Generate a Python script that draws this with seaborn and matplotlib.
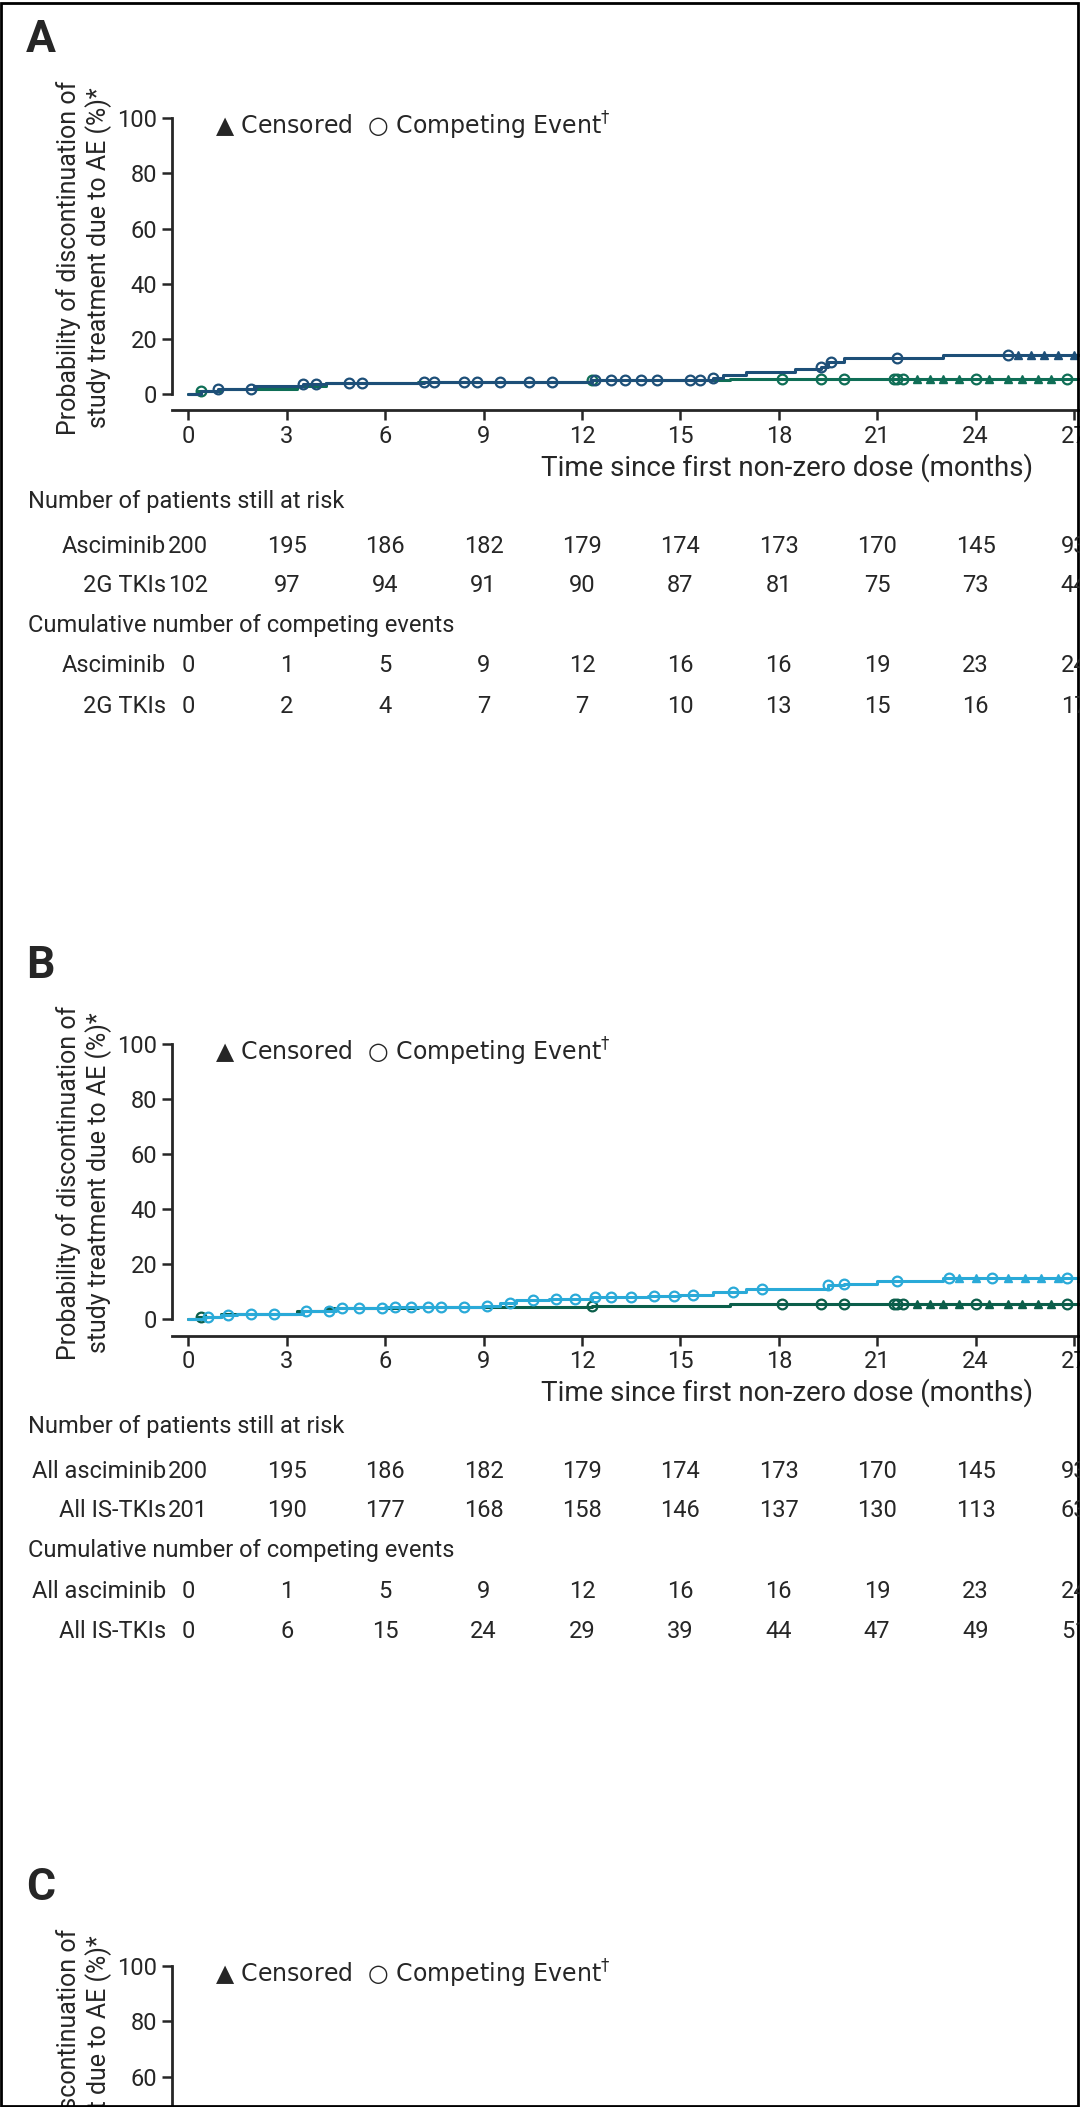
import numpy as np
import matplotlib
matplotlib.use("Agg")
import matplotlib.pyplot as plt
import seaborn as sns
from matplotlib.lines import Line2D

sns.set_style("ticks")
plt.rcParams['font.family'] = ['Roboto', 'DejaVu Sans']

# ---- curve data (time in months, cumulative %) ----
asc_t = [0, 0.3, 1.0, 3.3, 4.2, 7.0, 12.3, 16.5, 32.8, 35.6]
asc_y = [0, 1.0, 2.0, 3.0, 4.0, 4.5, 5.0, 5.5, 16.0, 16.0]
asc_circ = [0.4, 12.3, 18.1, 19.3, 20.0, 21.5, 21.6, 21.8, 24.0, 26.8]
asc_cens = [22.2, 22.6, 23.0, 23.5, 24.4, 25.0, 25.4, 25.9, 26.3, 27.3, 27.8, 28.3, 28.8,
            29.3, 29.8, 30.3, 30.8, 31.3, 31.8, 32.3, 32.7, 33.0, 33.5, 34.0, 34.5, 35.0, 35.5]

g2_t = [0, 0.4, 0.9, 2.0, 3.5, 4.2, 7.2, 12.3, 16.0, 16.3, 17.0, 18.5, 19.3, 19.5, 20.0, 23.0, 34.6]
g2_y = [0, 1.0, 2.0, 3.0, 3.5, 4.0, 4.5, 5.0, 6.0, 7.0, 8.0, 9.0, 10.0, 11.5, 13.0, 14.0, 14.0]
g2_circ = [0.9, 1.9, 3.5, 3.9, 4.9, 5.3, 7.2, 7.5, 8.4, 8.8, 9.5, 10.4, 11.1, 12.4, 12.9,
           13.3, 13.8, 14.3, 15.3, 15.6, 16.0, 19.3, 19.6, 21.6, 25.0, 28.2, 34.4]
g2_cens = [25.3, 25.7, 26.1, 26.5, 27.0, 27.5, 28.6, 29.0, 29.5, 30.0, 30.5, 31.0, 31.5,
           32.0, 32.5, 33.2, 33.8]

is_t = [0, 0.5, 1.0, 1.5, 3.5, 4.5, 6.0, 9.0, 9.5, 10.0, 11.0, 12.3, 14.0, 15.0, 16.0, 17.0,
        19.5, 20.0, 21.0, 23.0, 34.7]
is_y = [0, 1.0, 1.5, 2.0, 3.0, 4.0, 4.5, 5.0, 6.0, 7.0, 7.5, 8.0, 8.5, 9.0, 10.0, 11.0,
        12.5, 13.0, 14.0, 15.0, 15.0]
is_circ = [0.6, 1.2, 1.9, 2.6, 3.6, 4.3, 4.7, 5.2, 5.9, 6.3, 6.8, 7.3, 7.7, 8.4, 9.1, 9.8,
           10.5, 11.2, 11.8, 12.4, 12.9, 13.5, 14.2, 14.8, 15.4, 16.6, 17.5, 19.5, 20.0,
           21.6, 23.2, 24.5, 26.8, 28.5, 34.0]
is_cens = [23.5, 24.0, 25.0, 25.5, 26.0, 26.5, 27.2, 27.7, 28.1, 29.0, 29.5, 30.0, 30.5,
           31.0, 31.5, 32.0, 32.5, 33.2, 33.8, 34.4]

im_t = [0, 0.5, 1.0, 3.0, 3.7, 4.5, 5.8, 9.0, 9.5, 10.0, 12.0, 13.0, 14.5, 16.5, 22.0, 36.0]
im_y = [0, 1.0, 1.5, 2.5, 3.5, 4.0, 5.0, 6.0, 8.0, 10.0, 11.0, 12.0, 13.0, 14.5, 16.0, 16.0]
im_circ = [0.5, 1.0, 1.5, 2.5, 3.7, 4.2, 4.6, 5.0, 5.8, 6.3, 6.8, 7.3, 9.8, 12.0, 12.5,
           13.0, 14.5, 16.8, 17.2, 18.3, 20.0, 21.8, 23.0, 24.1, 27.0, 36.0]
im_cens = [22.3, 22.7, 23.3, 23.7, 24.5, 25.0, 25.5, 26.0, 26.5, 27.5, 28.0, 28.5, 29.0,
           29.5, 30.0, 30.5, 31.0, 31.5, 32.0, 33.5, 34.3, 35.0]

xticks = [0, 3, 6, 9, 12, 15, 18, 21, 24, 27, 30, 33, 36]

# ---- tables ----
risk_asc = [200, 195, 186, 182, 179, 174, 173, 170, 145, 93, 44, 6, 0]
risk_2g = [102, 97, 94, 91, 90, 87, 81, 75, 73, 44, 24, 6, 0]
risk_is = [201, 190, 177, 168, 158, 146, 137, 130, 113, 63, 28, 7, 0]
risk_im = [99, 93, 83, 77, 68, 59, 56, 55, 40, 19, 4, 1, 0]
comp_asc = [0, 1, 5, 9, 12, 16, 16, 19, 23, 24, 24, 24, 24]
comp_2g = [0, 2, 4, 7, 7, 10, 13, 15, 16, 17, 18, 18, 18]
comp_is = [0, 6, 15, 24, 29, 39, 44, 47, 49, 51, 52, 52, 52]
comp_im = [0, 4, 11, 17, 22, 29, 31, 32, 33, 34, 34, 34, 34]

GREEN = "#0f6e56"
NAVY = "#1d4f78"
CYAN = "#2aaad8"
STEEL = "#6f97b4"

panels = [
    ("A", ("Asciminib", asc_t, asc_y, asc_circ, asc_cens, GREEN),
          ("2G TKIs", g2_t, g2_y, g2_circ, g2_cens, NAVY),
     risk_asc, risk_2g, comp_asc, comp_2g),
    ("B", ("All asciminib", asc_t, asc_y, asc_circ, asc_cens, "#0b5e4a"),
          ("All IS-TKIs", is_t, is_y, is_circ, is_cens, CYAN),
     risk_asc, risk_is, comp_asc, comp_is),
    ("C", ("Asciminib", asc_t, asc_y, asc_circ, asc_cens, "#0b5e4a"),
          ("Imatinib", im_t, im_y, im_circ, im_cens, STEEL),
     risk_asc, risk_im, comp_asc, comp_im),
]

W, H = 1080, 2107
S = 1080 / 803  # reference measured at reduced scale
fig = plt.figure(figsize=(W / 100, H / 100), dpi=100)
fig.patches.append(plt.Rectangle((0.001, 0.0007), 0.997, 0.998, transform=fig.transFigure,
                                 fill=False, lw=2, color="black"))

def step_val(t, y, x):
    i = np.searchsorted(t, x, side="right") - 1
    return np.asarray(y)[np.clip(i, 0, len(y) - 1)]

x0_px, px_per = 140 * S, 24.39 * S
ypp = 2.05 * S

def xpx(t):
    return (x0_px + t * px_per) / W

FS = 17
offsets = [0, 688, 1374]
for (lab, s1, s2, r1, r2, c1, c2), off in zip(panels, offsets):
    top, bot = (78 + off) * S, (305 + off) * S
    left_px = x0_px - 0.5 * px_per
    right_px = x0_px + 37 * px_per
    ax = fig.add_axes([left_px / W, 1 - bot / H, (right_px - left_px) / W, (bot - top) / H])
    ylo = -12 * S / ypp
    ax.set_xlim(-0.5, 37)
    ax.set_ylim(ylo, ylo + (bot - top) / ypp)
    for name, t, y, circ, cens, col in (s1, s2):
        ax.step(t, y, where="post", color=col, lw=2.2)
        ax.plot(circ, step_val(t, y, circ), "o", mfc="none", mec=col, ms=7, mew=1.6)
        ax.plot(cens, step_val(t, y, cens), "^", color=col, ms=6)
    sns.despine(ax=ax)
    ax.spines["left"].set_bounds(0, 100)
    ax.spines["left"].set_linewidth(2)
    ax.spines["bottom"].set_linewidth(2)
    ax.set_yticks([0, 20, 40, 60, 80, 100])
    ax.set_xticks(xticks)
    ax.tick_params(labelsize=FS, width=1.8, length=7)
    ax.set_xlabel("Time since first non-zero dose (months)", fontsize=20)
    ax.set_ylabel("Probability of discontinuation of\nstudy treatment due to AE (%)*", fontsize=18)
    ax.text(0.035, 0.93, "▲ Censored  ○ Competing Event$^{†}$", transform=ax.transAxes,
            fontsize=FS, va="center", family=["DejaVu Sans"])
    handles = [Line2D([], [], color=s1[5], lw=2.8), Line2D([], [], color=s2[5], lw=2.8)]
    ax.legend(handles, [s1[0], s2[0]], loc="upper right", frameon=False, fontsize=FS,
              handlelength=1.8, bbox_to_anchor=(1.0, 1.03))
    fig.text(26 / W, 1 - (30 + off) * S / H, lab, fontsize=32, fontweight="bold", va="center")

    rows = [("Number of patients still at risk", 373), (s1[0], r1, 406), (s2[0], r2, 435),
            ("Cumulative number of competing events", 465), (s1[0], c1, 495), (s2[0], c2, 525)]
    for row in rows:
        if len(row) == 2:
            fig.text(28 / W, 1 - (row[1] + off) * S / H, row[0], fontsize=FS, va="center")
        else:
            name, vals, ypx = row
            yy = 1 - (ypx + off) * S / H
            fig.text(166 / W, yy, name, fontsize=FS, va="center", ha="right")
            for tx, v in zip(xticks, vals):
                fig.text(xpx(tx), yy, str(v), fontsize=FS, va="center", ha="center")

fig.savefig("out.png", dpi=100)
